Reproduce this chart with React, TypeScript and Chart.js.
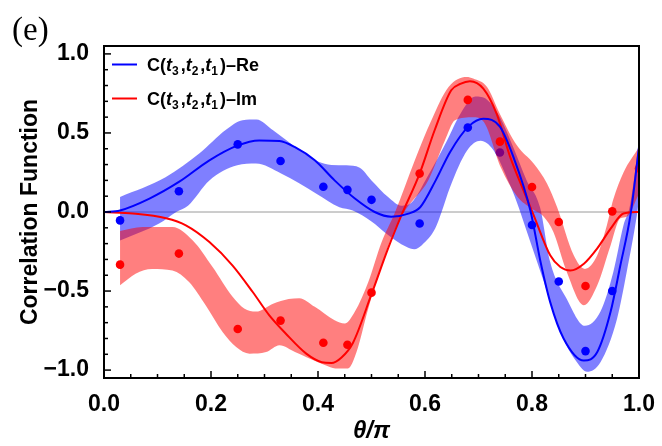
import React, { useEffect, useRef } from "react";
import { Chart, registerables } from "chart.js";
Chart.register(...registerables);

// measured points
const thetaRe = [0.03, 0.14, 0.25, 0.33, 0.41, 0.455, 0.5, 0.59, 0.68, 0.74, 0.8, 0.85, 0.9, 0.95];
const reMeasured = [-0.053, 0.131, 0.428, 0.323, 0.16, 0.14, 0.077, -0.073, 0.534, 0.376, -0.082, -0.44, -0.88, -0.5];
const thetaIm = [0.03, 0.14, 0.25, 0.33, 0.41, 0.455, 0.5, 0.59, 0.68, 0.74, 0.8, 0.85, 0.9, 0.95, 1.0];
const imMeasured = [-0.333, -0.263, -0.74, -0.687, -0.827, -0.84, -0.51, 0.243, 0.709, 0.445, 0.158, -0.063, -0.468, 0.004, 0.275];

// theory curves
const reTheoryTheta = [0, 0.03, 0.085, 0.14, 0.197, 0.249, 0.29, 0.328, 0.357, 0.394, 0.431, 0.469, 0.506, 0.537, 0.569, 0.591, 0.62, 0.647, 0.681, 0.709, 0.74, 0.765, 0.797, 0.816, 0.834, 0.859, 0.897, 0.922, 0.947, 0.965, 0.984, 1.0];
const reTheory = [0, 0.01, 0.085, 0.19, 0.327, 0.42, 0.453, 0.449, 0.41, 0.327, 0.2, 0.085, 0, -0.03, -0.01, 0.03, 0.2, 0.38, 0.54, 0.59, 0.54, 0.35, 0.01, -0.316, -0.57, -0.8, -0.94, -0.886, -0.63, -0.34, -0.02, 0.41];
const imTheoryTheta = [0, 0.054, 0.116, 0.153, 0.197, 0.24, 0.278, 0.309, 0.34, 0.378, 0.407, 0.425, 0.444, 0.465, 0.5, 0.531, 0.556, 0.59, 0.618, 0.649, 0.666, 0.684, 0.709, 0.734, 0.759, 0.784, 0.803, 0.834, 0.853, 0.872, 0.897, 0.922, 0.947, 0.971, 1.0];
const imTheory = [0, -0.01, -0.04, -0.084, -0.19, -0.337, -0.506, -0.654, -0.77, -0.896, -0.95, -0.955, -0.92, -0.83, -0.52, -0.23, -0.02, 0.243, 0.517, 0.77, 0.81, 0.827, 0.78, 0.62, 0.35, 0.137, -0.02, -0.274, -0.348, -0.37, -0.327, -0.23, -0.105, -0.01, 0.0];

// uncertainty bands
const reUpperTheta = [0.03, 0.115, 0.178, 0.228, 0.259, 0.285, 0.316, 0.366, 0.4, 0.425, 0.453, 0.478, 0.5, 0.531, 0.556, 0.575, 0.604, 0.641, 0.666, 0.694, 0.716, 0.74, 0.765, 0.79, 0.815, 0.834, 0.865, 0.899, 0.928, 0.952, 0.971, 0.983, 1.0];
const reUpper = [0.095, 0.22, 0.37, 0.52, 0.58, 0.585, 0.517, 0.39, 0.32, 0.298, 0.295, 0.28, 0.2, 0.095, 0.04, 0.06, 0.22, 0.45, 0.62, 0.73, 0.71, 0.6, 0.41, 0.2, 0.03, -0.316, -0.55, -0.72, -0.63, -0.38, -0.084, 0.04, 0.45];
const reLowerTheta = [0.03, 0.103, 0.135, 0.157, 0.197, 0.249, 0.284, 0.331, 0.397, 0.44, 0.465, 0.5, 0.528, 0.565, 0.58, 0.594, 0.619, 0.631, 0.647, 0.679, 0.704, 0.728, 0.759, 0.775, 0.79, 0.822, 0.853, 0.884, 0.903, 0.928, 0.959, 0.977, 0.996, 1.0];
const reLower = [-0.18, -0.073, 0.0, 0.04, 0.2, 0.295, 0.306, 0.243, 0.116, 0.03, 0.01, -0.06, -0.137, -0.22, -0.235, -0.21, -0.105, 0.0, 0.158, 0.39, 0.45, 0.39, 0.17, 0.03, -0.12, -0.44, -0.76, -0.95, -1.01, -0.95, -0.675, -0.38, -0.02, 0.08];
const imUpperTheta = [0.03, 0.072, 0.128, 0.166, 0.203, 0.24, 0.262, 0.284, 0.316, 0.345, 0.365, 0.394, 0.431, 0.45, 0.469, 0.494, 0.519, 0.543, 0.581, 0.612, 0.644, 0.678, 0.69, 0.716, 0.74, 0.772, 0.803, 0.828, 0.847, 0.878, 0.899, 0.922, 0.94, 0.952, 0.971, 1.0];
const imUpper = [-0.12, -0.095, -0.095, -0.18, -0.348, -0.535, -0.61, -0.63, -0.58, -0.55, -0.545, -0.6, -0.685, -0.706, -0.63, -0.443, -0.19, -0.01, 0.327, 0.58, 0.79, 0.854, 0.844, 0.79, 0.62, 0.42, 0.306, 0.18, 0.03, -0.274, -0.36, -0.274, -0.084, 0.08, 0.25, 0.41];
const imLowerTheta = [0.03, 0.059, 0.09, 0.128, 0.159, 0.19, 0.222, 0.247, 0.272, 0.303, 0.328, 0.357, 0.4, 0.437, 0.456, 0.472, 0.494, 0.519, 0.544, 0.565, 0.606, 0.637, 0.656, 0.69, 0.71, 0.742, 0.772, 0.8, 0.822, 0.84, 0.865, 0.897, 0.922, 0.947, 0.965, 0.977, 1.0];
const imLower = [-0.464, -0.39, -0.36, -0.37, -0.443, -0.59, -0.76, -0.854, -0.896, -0.886, -0.843, -0.886, -0.95, -0.99, -0.99, -0.886, -0.61, -0.337, -0.105, 0.02, 0.2, 0.45, 0.58, 0.6, 0.57, 0.28, 0.1, 0.02, -0.03, -0.127, -0.38, -0.59, -0.464, -0.21, -0.04, -0.03, 0.116];

// ticks and labels
const xTicks = [0, 0.2, 0.4, 0.6, 0.8, 1.0];
const yTicks = [-1, -0.5, 0, 0.5, 1];
const seriesNames = ["Re", "Im"];
const panelLabel = "(e)";
const xTitle = "θ/π";
const yTitle = "Correlation Function";

const BLUE = "#0000ff";
const RED = "#ff0000";
const BLUE_BAND = "rgba(0,0,255,0.5)";
const RED_BAND = "rgba(255,0,0,0.5)";
const FAMILY = '"Liberation Sans", Arial, Helvetica, sans-serif';

const pts = (xs: number[], ys: number[]) => xs.map((x, i) => ({ x, y: ys[i] }));

const decorPlugin = {
  id: "decor",
  beforeDatasetsDraw(chart: any) {
    const { ctx, chartArea, scales } = chart;
    const y0 = scales.y.getPixelForValue(0);
    ctx.save();
    ctx.strokeStyle = "#9a9a9a";
    ctx.lineWidth = 1;
    ctx.beginPath();
    ctx.moveTo(chartArea.left, y0);
    ctx.lineTo(chartArea.right, y0);
    ctx.stroke();
    ctx.restore();
  },
  afterDraw(chart: any) {
    const { ctx, chartArea, scales } = chart;
    const { left, right, top, bottom } = chartArea;
    ctx.save();
    // ticks (inward)
    ctx.strokeStyle = "#000";
    ctx.lineWidth = 1.5;
    for (let i = 0; i <= 20; i++) {
      const v = i * 0.05;
      const major = i % 4 === 0;
      const px = scales.x.getPixelForValue(v);
      ctx.beginPath();
      ctx.moveTo(px, bottom);
      ctx.lineTo(px, bottom - (major ? 7 : 4));
      ctx.stroke();
    }
    for (let i = -10; i <= 10; i++) {
      const v = i * 0.1;
      const major = i % 5 === 0;
      const py = scales.y.getPixelForValue(v);
      ctx.beginPath();
      ctx.moveTo(left, py);
      ctx.lineTo(left + (major ? 7 : 4), py);
      ctx.stroke();
    }
    // frame
    ctx.lineWidth = 2;
    ctx.strokeRect(left, top, right - left, bottom - top);

    // panel label
    ctx.fillStyle = "#000";
    ctx.font = '33px "Liberation Serif", "DejaVu Serif", serif';
    ctx.textBaseline = "alphabetic";
    ctx.textAlign = "left";
    ctx.fillText(panelLabel, 12, 40);

    // legend
    const colors = [BLUE, RED];
    const rowY = [64.5, 98.5];
    const fs = 18;
    const normal = `bold ${fs}px ${FAMILY}`;
    const ital = `italic bold ${fs}px ${FAMILY}`;
    const sub = `bold 12px ${FAMILY}`;
    seriesNames.forEach((name, r) => {
      const y = rowY[r];
      ctx.strokeStyle = colors[r];
      ctx.lineWidth = 2;
      ctx.beginPath();
      ctx.moveTo(112, y);
      ctx.lineTo(137, y);
      ctx.stroke();
      const base = y + 6.5;
      const pieces: [string, string, number, number][] = [
        ["C(", normal, 0, 0],
        ["t", ital, 0, 0],
        ["3", sub, 4, 2],
        [",", normal, 0, 0],
        ["t", ital, 0, 0],
        ["2", sub, 4, 2],
        [",", normal, 0, 0],
        ["t", ital, 0, 0],
        ["1", sub, 4, 2],
        [")–" + name, normal, 0, 0],
      ];
      let x = 147;
      ctx.fillStyle = "#000";
      for (const [t, f, dy, gap] of pieces) {
        ctx.font = f;
        ctx.fillText(t, x, base + dy);
        x += ctx.measureText(t).width + gap;
      }
    });
    ctx.restore();
  },
};

export default function App() {
  const ref = useRef<HTMLCanvasElement | null>(null);
  useEffect(() => {
    if (!ref.current) return;
    const chart = new Chart(ref.current, {
      type: "line",
      data: {
        datasets: [
          { data: pts(reUpperTheta, reUpper), order: 10, fill: "+1", backgroundColor: BLUE_BAND, borderWidth: 0, pointRadius: 0, cubicInterpolationMode: "monotone" },
          { data: pts(reLowerTheta, reLower), order: 10, fill: false, borderWidth: 0, pointRadius: 0, cubicInterpolationMode: "monotone" },
          { data: pts(thetaRe, reMeasured), order: 9, showLine: false, pointRadius: 4.3, pointBackgroundColor: BLUE, pointBorderWidth: 0, clip: 0 },
          { data: pts(imUpperTheta, imUpper), order: 8, fill: "+1", backgroundColor: RED_BAND, borderWidth: 0, pointRadius: 0, cubicInterpolationMode: "monotone" },
          { data: pts(imLowerTheta, imLower), order: 8, fill: false, borderWidth: 0, pointRadius: 0, cubicInterpolationMode: "monotone" },
          { data: pts(thetaIm, imMeasured), order: 7, showLine: false, pointRadius: 4.3, pointBackgroundColor: RED, pointBorderWidth: 0, clip: 0 },
          { data: pts(imTheoryTheta, imTheory), order: 6, borderColor: RED, borderWidth: 2, pointRadius: 0, fill: false, cubicInterpolationMode: "monotone" },
          { data: pts(reTheoryTheta, reTheory), order: 5, borderColor: BLUE, borderWidth: 2, pointRadius: 0, fill: false, cubicInterpolationMode: "monotone" },
        ] as any,
      },
      options: {
        animation: false,
        responsive: false,
        devicePixelRatio: 1,
        layout: { padding: { left: 0, top: 46, right: 23, bottom: 0 } },
        plugins: { legend: { display: false }, tooltip: { enabled: false } },
        scales: {
          x: {
            type: "linear",
            min: 0,
            max: 1,
            afterBuildTicks: (s: any) => { s.ticks = xTicks.map((v) => ({ value: v })); },
            afterFit: (s: any) => { s.height = 68; },
            ticks: {
              autoSkip: false,
              maxRotation: 0,
              padding: 5,
              color: "#000",
              font: { family: FAMILY, size: 23, weight: "bold" },
              callback: (v: any) => Number(v).toFixed(1),
            },
            grid: { display: false },
            border: { display: false },
            title: { display: true, text: xTitle, color: "#000", font: { family: FAMILY, size: 24, weight: "bold", style: "italic" }, padding: { top: 0, bottom: 0 } },
          },
          y: {
            type: "linear",
            min: -1.05,
            max: 1.05,
            afterBuildTicks: (s: any) => { s.ticks = yTicks.map((v) => ({ value: v })); },
            afterFit: (s: any) => { s.width = 104; },
            ticks: {
              autoSkip: false,
              padding: 7,
              color: "#000",
              font: { family: FAMILY, size: 23, weight: "bold" },
              callback: (v: any) => (Number(v) < 0 ? "−" + Math.abs(Number(v)).toFixed(1) : Number(v).toFixed(1)),
            },
            grid: { display: false },
            border: { display: false },
            title: { display: true, text: yTitle, color: "#000", font: { family: FAMILY, size: 23, weight: "bold" }, padding: { top: 17, bottom: 0 } },
          },
        },
      } as any,
      plugins: [decorPlugin],
    });
    return () => chart.destroy();
  }, []);
  return (
    <div style={{ position: "absolute", left: 0, top: 0, width: 662, height: 446 }}>
      <canvas ref={ref} width={662} height={446} style={{ width: 662, height: 446 }} />
    </div>
  );
}
